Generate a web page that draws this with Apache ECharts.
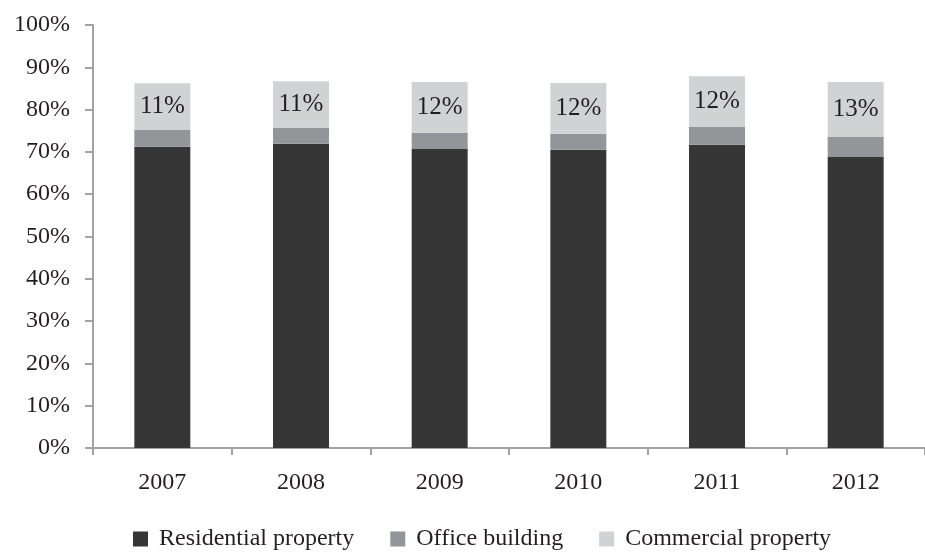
<!DOCTYPE html>
<html>
<head>
<meta charset="utf-8">
<style>
  html, body { margin: 0; padding: 0; background: #ffffff; }
  #chart { width: 925px; height: 552px; }
</style>
<script src="https://cdn.jsdelivr.net/npm/echarts@6/dist/echarts.min.js"></script>
</head>
<body>
<div id="chart"></div>
<script>
// Share of floor space by property type (%)
const years = ['2007', '2008', '2009', '2010', '2011', '2012'];
const residential = [71.2, 71.9, 70.7, 70.5, 71.7, 68.8];
const office = [4.0, 3.8, 3.8, 3.8, 4.2, 4.7];
const commercial = [11, 11, 12, 12, 12, 13];

const seriesNames = ['Residential property', 'Office building', 'Commercial property'];
const seriesColors = ['#363636', '#939598', '#d1d2d4'];

const FONT = '"Liberation Serif", "Times New Roman", serif';
const TEXT = '#231f20';
const AXIS = '#a3a3a3';

const chart = echarts.init(document.getElementById('chart'), null, { renderer: 'canvas' });

const dataSets = [residential, office, commercial];

chart.setOption({
  animation: false,
  backgroundColor: '#ffffff',
  textStyle: { fontFamily: FONT },
  grid: { left: 93, top: 25, width: 841, bottom: 104, containLabel: false },
  legend: {
    left: 133,
    top: 527,
    padding: 0,
    itemWidth: 15,
    itemHeight: 15,
    itemGap: 36,
    icon: 'rect',
    textStyle: { fontFamily: FONT, fontSize: 24, color: TEXT, padding: [0, 0, 0, 6] },
    data: seriesNames
  },
  xAxis: {
    type: 'category',
    data: years,
    boundaryGap: true,
    axisLine: { lineStyle: { color: AXIS, width: 2 } },
    axisTick: { show: true, length: 7, lineStyle: { color: AXIS, width: 2 } },
    axisLabel: { fontFamily: FONT, fontSize: 24, color: TEXT, margin: 23 }
  },
  yAxis: {
    type: 'value',
    min: 0,
    max: 100,
    interval: 10,
    splitLine: { show: false },
    axisLine: { show: true, lineStyle: { color: AXIS, width: 2 } },
    axisTick: { show: true, length: 8, lineStyle: { color: AXIS, width: 2 } },
    axisLabel: { fontFamily: FONT, fontSize: 24, color: TEXT, margin: 23, formatter: '{value}%' }
  },
  series: seriesNames.map((name, i) => ({
    name: name,
    type: 'bar',
    stack: 'total',
    barWidth: 56,
    itemStyle: { color: seriesColors[i] },
    data: dataSets[i],
    label: i === 2 ? {
      show: true,
      position: 'inside',
      fontFamily: FONT,
      fontSize: 25,
      color: TEXT,
      formatter: (p) => p.value + '%'
    } : { show: false }
  }))
});
</script>
</body>
</html>
